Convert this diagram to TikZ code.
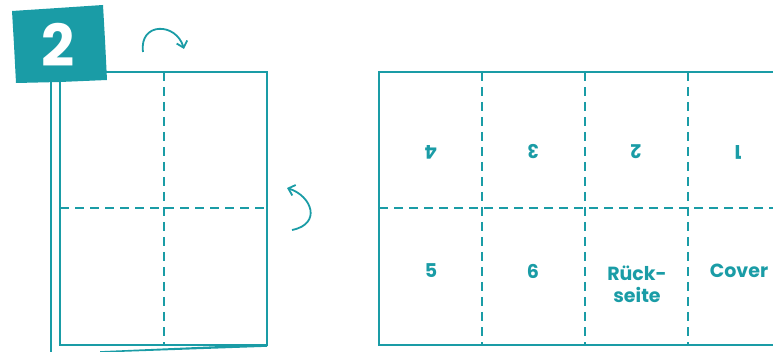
\documentclass[tikz,border=0pt]{standalone}
\usepackage{fontspec}
\setmainfont{Poppins}
\usetikzlibrary{arrows.meta}
\definecolor{teal}{HTML}{1A9CA6}
\tikzset{
  edge/.style={draw=teal, line width=2.1pt},
  fold/.style={draw=teal, line width=2pt, dash pattern=on 9pt off 6pt},
  lbl/.style={text=teal, font=\fontsize{19}{22}\selectfont\bfseries, align=center},
  turn/.style={draw=teal, line width=1.8pt, -{Straight Barb[length=6pt,width=11pt]}}
}
\begin{document}
\begin{tikzpicture}[x=1pt,y=-1pt]
\useasboundingbox (0,0) rectangle (773,352);
% left sheet
\draw[edge] (51,82) -- (51,352);
\draw[edge] (60,72) rectangle (267,345);
\fill[teal] (100,351.2) -- (267,344) -- (267,346.8) -- (100,352.6) -- cycle;
\draw[fold] (164,72) -- (164,345);
\draw[fold] (60,208) -- (267,208);
% badge
\fill[teal] (12,11) -- (58,8) -- (103,5) -- (105,40) -- (107,80) -- (60,82) -- (16,83) -- (14,45) -- cycle;
\node[text=white, font=\fontsize{58}{60}\selectfont\bfseries] (badge) at (58,45) {2};
% turn arrows
\draw[turn] (143,52) .. controls (139,22) and (176,22) .. (184,49);
\draw[turn] (292,230) .. controls (322,224) and (312,196) .. (287,188);
% right sheet
\draw[edge] (773,72) -- (379,72) -- (379,345) -- (773,345);
\draw[fold] (379,208) -- (773,208);
\draw[fold] (482,72) -- (482,345);
\draw[fold] (585,72) -- (585,345);
\draw[fold] (688,72) -- (688,345);
% labels
\node[lbl, rotate=180] (p4) at (431,152) {4};
\node[lbl, rotate=180] (p3) at (533,152) {3};
\node[lbl, rotate=180] (p2) at (636,152) {2};
\node[lbl, rotate=180] (p1) at (738,152) {1};
\node[lbl] (p5) at (431,271) {5};
\node[lbl] (p6) at (533,271) {6};
\node[lbl] (back) at (637,284) {Rück-\\seite};
\node[lbl] (cover) at (739,271) {Cover};
\end{tikzpicture}
\end{document}
